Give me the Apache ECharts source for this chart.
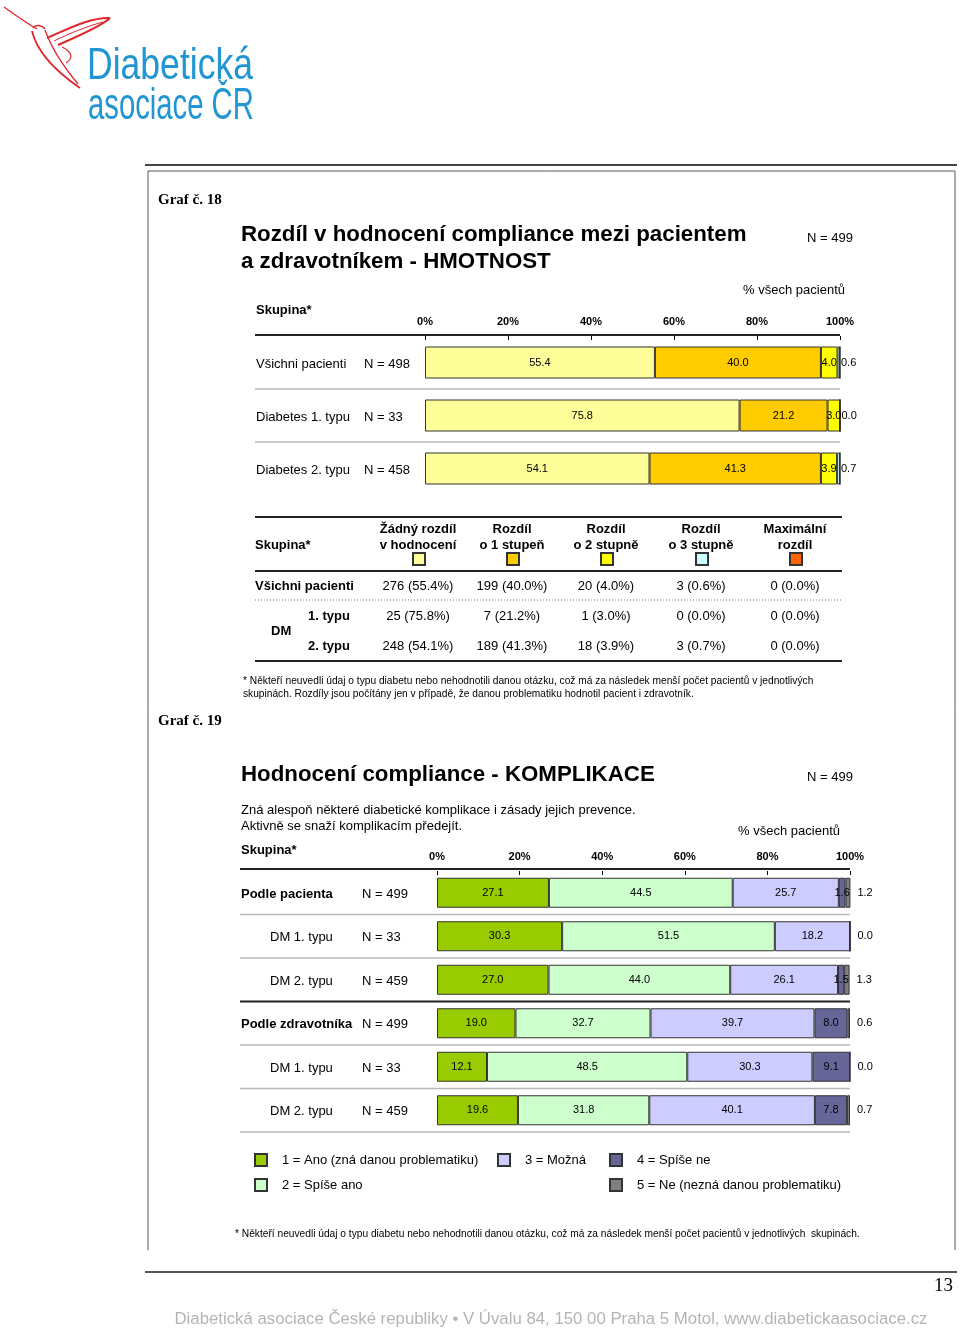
<!DOCTYPE html>
<html><head><meta charset="utf-8">
<script src="https://cdn.jsdelivr.net/npm/echarts@6/dist/echarts.min.js"></script>
<style>html,body{margin:0;padding:0;background:#fff}#c{width:960px;height:1329px}</style>
</head><body><div id="c"></div>
<script>
const FONT = '"Liberation Sans", Arial, sans-serif';
const SERIF = '"Liberation Serif", "Times New Roman", serif';

// ---------- Graf 18 ----------
const c1Groups = ['Všichni pacienti', 'Diabetes 1. typu', 'Diabetes 2. typu'];
const c1N = ['N = 498', 'N = 33', 'N = 458'];
const c1SeriesNames = ['Žádný rozdíl v hodnocení', 'Rozdíl o 1 stupeň', 'Rozdíl o 2 stupně', 'Rozdíl o 3 stupně', 'Maximální rozdíl'];
const c1None  = [55.4, 75.8, 54.1];
const c1Diff1 = [40.0, 21.2, 41.3];
const c1Diff2 = [4.0, 3.0, 3.9];
const c1Diff3 = [0.6, 0.0, 0.7];
const c1Max   = [0.0, 0.0, 0.0];
const tickLabels = ['0%', '20%', '40%', '60%', '80%', '100%'];

// table under Graf 18
const tblHeaders = [['Žádný rozdíl', 'v hodnocení'], ['Rozdíl', 'o 1 stupeň'], ['Rozdíl', 'o 2 stupně'], ['Rozdíl', 'o 3 stupně'], ['Maximální', 'rozdíl']];
const tblRows = ['Všichni pacienti', '1. typu', '2. typu'];
const tblCounts = [[276, 199, 20, 3, 0], [25, 7, 1, 0, 0], [248, 189, 18, 3, 0]];

// ---------- Graf 19 ----------
const c2Groups = ['Podle pacienta', 'DM 1. typu', 'DM 2. typu', 'Podle zdravotníka', 'DM 1. typu', 'DM 2. typu'];
const c2Bold = [true, false, false, true, false, false];
const c2N = ['N = 499', 'N = 33', 'N = 459', 'N = 499', 'N = 33', 'N = 459'];
const c2Names = ['1 = Ano (zná danou problematiku)', '2 = Spíše ano', '3 = Možná', '4 = Spíše ne', '5 = Ne (nezná danou problematiku)'];
const c2Yes        = [27.1, 30.3, 27.0, 19.0, 12.1, 19.6];
const c2RatherYes  = [44.5, 51.5, 44.0, 32.7, 48.5, 31.8];
const c2Maybe      = [25.7, 18.2, 26.1, 39.7, 30.3, 40.1];
const c2RatherNo   = [1.6, 0.0, 1.5, 8.0, 9.1, 7.8];
const c2No         = [1.2, 0.0, 1.3, 0.6, 0.0, 0.7];

const C1_COLORS = ['#FFFF99', '#FFCC00', '#FFFF00', '#CCFFFF', '#FF6600'];
const C2_COLORS = ['#99CC00', '#CCFFCC', '#CCCCFF', '#666699', '#808080'];
const c1Data = [c1None, c1Diff1, c1Diff2, c1Diff3, c1Max];
const c2Data = [c2Yes, c2RatherYes, c2Maybe, c2RatherNo, c2No];
const fmt1 = v => Number(v).toFixed(1);
const LAB = { fontSize: 11, color: '#000', fontFamily: FONT };

const chart = echarts.init(document.getElementById('c'), null, { renderer: 'canvas' });

function xAx(gi) {
  return {
    gridIndex: gi, type: 'value', position: 'top', min: 0, max: 100, interval: 20,
    axisLine: { show: false }, splitLine: { show: false },
    axisTick: { show: true, inside: true, length: 4, lineStyle: { color: '#000' } },
    axisLabel: { formatter: v => tickLabels[Math.round(v / 20)], fontWeight: 'bold', fontSize: 11, color: '#000', fontFamily: FONT, margin: 9, showMinLabel: true, showMaxLabel: true }
  };
}
function yAx(gi, data) {
  return { gridIndex: gi, type: 'category', data: data, inverse: true, axisLine: { show: false }, axisTick: { show: false }, axisLabel: { show: false } };
}

const series = [];
c1Data.forEach((d, i) => {
  let label = { show: false };
  if (i < 3) label = Object.assign({ show: true, position: 'inside', formatter: p => fmt1(p.value) }, LAB);
  else if (i === 3) label = Object.assign({ show: true, position: 'right', distance: 1, formatter: p => fmt1(p.value) }, LAB);
  series.push({
    name: c1SeriesNames[i], type: 'bar', stack: 'c1', xAxisIndex: 0, yAxisIndex: 0, barWidth: 32, data: d,
    itemStyle: { color: C1_COLORS[i], borderColor: '#333', borderWidth: 1 },
    label: label, emphasis: { disabled: true }
  });
});
c2Data.forEach((d, i) => {
  let label;
  if (i < 4) label = Object.assign({ show: true, position: 'inside', formatter: p => (i === 3 && p.value === 0) ? '' : fmt1(p.value) }, LAB);
  else label = Object.assign({ show: true, position: 'right', distance: 7, formatter: p => fmt1(p.value) }, LAB);
  series.push({
    name: c2Names[i], type: 'bar', stack: 'c2', xAxisIndex: 1, yAxisIndex: 1, barWidth: 30, data: d,
    itemStyle: { color: C2_COLORS[i], borderColor: '#333', borderWidth: 1 },
    label: label, emphasis: { disabled: true }
  });
});

// legends
const colX = [418, 512, 606, 701, 795];
const legends = [];
c1SeriesNames.forEach((n, i) => legends.push({
  data: [n], left: colX[i] - 6, top: 552, padding: 0, itemWidth: 12, itemHeight: 12, icon: 'rect',
  selectedMode: false, formatter: () => '', textStyle: { fontSize: 1 }
}));
const c2LegendPos = [[254, 1153], [254, 1178], [497, 1153], [609, 1153], [609, 1178]];
c2Names.forEach((n, i) => legends.push({
  data: [n], left: c2LegendPos[i][0], top: c2LegendPos[i][1], padding: 0, itemWidth: 12, itemHeight: 12, icon: 'rect',
  selectedMode: false, textStyle: { fontSize: 13, color: '#000', fontFamily: FONT, padding: [0, 0, 0, 10] }
}));

chart.setOption({
  animation: false,
  backgroundColor: '#fff',
  grid: [
    { left: 425, top: 336, width: 415, height: 159 },
    { left: 437, top: 871, width: 413, height: 261 }
  ],
  xAxis: [xAx(0), xAx(1)],
  yAxis: [yAx(0, c1Groups), yAx(1, c2Groups.map((_, i) => String(i)))],
  legend: legends,
  series: series
});

// ---------- graphics ----------
const G = [];
const DY = 1.5;
function txt(x, y, s, o) {
  o = o || {};
  G.push({
    type: 'text', x: x, y: y + DY, scaleX: o.scaleX || 1, silent: true,
    style: {
      text: s, fill: o.color || '#000', fontSize: o.size || 13, fontFamily: o.family || FONT,
      fontWeight: o.weight || 'normal', align: o.align || 'left', verticalAlign: 'middle'
    }
  });
}
function line(x1, y1, x2, y2, color, w, dash) {
  G.push({ type: 'line', silent: true, shape: { x1: x1, y1: y1, x2: x2, y2: y2 },
    style: { stroke: color, lineWidth: w, lineDash: dash || null } });
}
function bez(a, w) {
  G.push({ type: 'bezierCurve', silent: true,
    shape: { x1: a[0], y1: a[1], cpx1: a[2], cpy1: a[3], cpx2: a[4], cpy2: a[5], x2: a[6], y2: a[7] },
    style: { stroke: '#E0262C', lineWidth: w, fill: null } });
}

// logo bird
bez([4, 7, 14, 14, 25, 22, 37, 29], 1.3);
bez([33, 28, 36, 24, 42, 25, 45, 29], 1.6);
bez([32, 31, 36, 48, 48, 66, 80, 88], 1.8);
bez([45, 30, 50, 44, 58, 60, 78, 84], 1.3);
bez([47, 38, 66, 30, 90, 17, 110, 18], 2.0);
bez([110, 18, 104, 24, 88, 32, 58, 45], 2.0);
bez([54, 41, 70, 33, 88, 26, 103, 22], 1.0);
bez([62, 47, 72, 52, 74, 58, 66, 63], 1.2);
txt(87, 65, 'Diabetická', { size: 45, color: '#2196D3', scaleX: 0.79 });
txt(88, 105, 'asociace ČR', { size: 45, color: '#2196D3', scaleX: 0.65 });

// page frame
line(145, 165, 957, 165, '#444', 2);
line(148, 171, 955, 171, '#555', 1);
line(148, 171, 148, 1250, '#555', 1);
line(955, 171, 955, 1250, '#555', 1);
line(145, 1272, 957, 1272, '#555', 2);
txt(953, 1285, '13', { size: 19, family: SERIF, align: 'right' });
txt(551, 1318, 'Diabetická asociace České republiky • V Úvalu 84, 150 00 Praha 5 Motol, www.diabetickaasociace.cz', { size: 16.8, color: '#b4b4b4', align: 'center' });

// Graf 18 texts
txt(158, 199, 'Graf č. 18', { size: 15, family: SERIF, weight: 'bold' });
txt(241, 233, 'Rozdíl v hodnocení compliance mezi pacientem', { size: 22.3, weight: 'bold' });
txt(241, 260, 'a zdravotníkem - HMOTNOST', { size: 22.3, weight: 'bold' });
txt(807, 237, 'N = 499', { size: 13 });
txt(845, 289, '% všech pacientů', { size: 13, align: 'right' });
txt(256, 309, 'Skupina*', { size: 13, weight: 'bold' });
line(255, 335, 840, 335, '#222', 2);

const y1 = c1Groups.map((_, i) => chart.convertToPixel({ yAxisIndex: 0 }, i));
c1Groups.forEach((g, i) => {
  txt(256, y1[i], g, { size: 13 });
  txt(364, y1[i], c1N[i], { size: 13 });
  if (i < c1Groups.length - 1) line(255, (y1[i] + y1[i + 1]) / 2, 840, (y1[i] + y1[i + 1]) / 2, '#b8b8b8', 1.5);
});

// table
line(255, 517, 842, 517, '#222', 2);
txt(255, 544, 'Skupina*', { size: 13, weight: 'bold' });
tblHeaders.forEach((h, i) => {
  txt(colX[i], 528, h[0], { size: 13, weight: 'bold', align: 'center' });
  txt(colX[i], 544, h[1], { size: 13, weight: 'bold', align: 'center' });
});
line(255, 571, 842, 571, '#222', 2);
const rowY = [585, 615, 645];
const pct = tblRows.map((_, r) => c1Data.map(d => d[r]));
tblRows.forEach((r, ri) => {
  txt(ri === 0 ? 255 : 308, rowY[ri], r, { size: 13, weight: 'bold' });
  tblCounts[ri].forEach((n, ci) => txt(colX[ci], rowY[ri], n + ' (' + fmt1(pct[ri][ci]) + '%)', { size: 13, align: 'center' }));
});
txt(271, 630, 'DM', { size: 13, weight: 'bold' });
line(255, 600, 842, 600, '#777', 1, [1, 2]);
line(255, 661, 842, 661, '#222', 2);
txt(243, 680, '* Někteří neuvedli údaj o typu diabetu nebo nehodnotili danou otázku, což má za následek menší počet pacientů v jednotlivých', { size: 10.2 });
txt(243, 693, 'skupinách. Rozdíly jsou počítány jen v případě, že danou problematiku hodnotil pacient i zdravotník.', { size: 10.2 });

// Graf 19 texts
txt(158, 720, 'Graf č. 19', { size: 15, family: SERIF, weight: 'bold' });
txt(241, 773, 'Hodnocení compliance - KOMPLIKACE', { size: 22.3, weight: 'bold' });
txt(807, 776, 'N = 499', { size: 13 });
txt(241, 809, 'Zná alespoň některé diabetické komplikace i zásady jejich prevence.', { size: 13 });
txt(241, 825, 'Aktivně se snaží komplikacím předejít.', { size: 13 });
txt(840, 830, '% všech pacientů', { size: 13, align: 'right' });
txt(241, 849, 'Skupina*', { size: 13, weight: 'bold' });
line(240, 869, 850, 869, '#222', 2);

const y2 = c2Groups.map((_, i) => chart.convertToPixel({ yAxisIndex: 1 }, i));
c2Groups.forEach((g, i) => {
  txt(c2Bold[i] ? 241 : 270, y2[i], g, { size: 13, weight: c2Bold[i] ? 'bold' : 'normal' });
  txt(362, y2[i], c2N[i], { size: 13 });
  const next = i < c2Groups.length - 1 ? y2[i + 1] : y2[i] + (y2[i] - y2[i - 1]);
  const sy = (y2[i] + next) / 2;
  if (i === 2) line(240, sy, 850, sy, '#222', 2);
  else line(240, sy, 850, sy, '#b8b8b8', 1.5);
});
txt(235, 1233, '* Někteří neuvedli údaj o typu diabetu nebo nehodnotili danou otázku, což má za následek menší počet pacientů v jednotlivých  skupinách.', { size: 10.2 });

chart.setOption({ graphic: G });
</script></body></html>
